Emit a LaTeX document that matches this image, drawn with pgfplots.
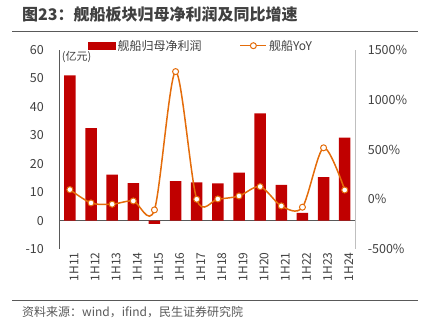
\documentclass[border=0pt]{standalone}
\usepackage{fontspec}
\setmainfont{Noto Sans CJK SC}
\usepackage{pgfplots}
\pgfplotsset{compat=1.18}
\definecolor{barred}{HTML}{C00000}
\definecolor{lineor}{HTML}{E46C0A}
\definecolor{txt}{HTML}{404040}
\begin{document}
\begin{tikzpicture}
\path[use as bounding box] (0pt,0pt) rectangle (429pt,-334pt);
\node[anchor=west, font=\bfseries\fontsize{16}{18}\selectfont, text=txt, inner sep=0] at (22pt,-14pt) {图23：舰船板块归母净利润及同比增速};
\draw[color=black!65, line width=1pt] (12pt,-32pt)--(418pt,-32pt);
\draw[color=black!65, line width=1pt] (12pt,-301pt)--(418pt,-301pt);
\node[anchor=west, font=\fontsize{12}{14}\selectfont, text=black!65, inner sep=0] at (22pt,-312pt) {资料来源：wind，ifind，民生证券研究院};

\begin{axis}[
  at={(59.3pt,-249pt)}, anchor=south west, width=296pt, height=199pt, scale only axis,
  xmin=-0.5, xmax=13.5, ymin=-10, ymax=60, ytick={-10,0,...,60},
  axis y line*=left, axis x line*=bottom,
  x axis line style={draw=none},
  y axis line style={draw=black!65, line width=0.8pt},
  major tick length=0pt,
  xtick={0,...,13},
  xticklabels={1H11,1H12,1H13,1H14,1H15,1H16,1H17,1H18,1H19,1H20,1H21,1H22,1H23,1H24},
  xticklabel style={rotate=90, anchor=east, font=\fontsize{12}{14}\selectfont, text=txt, yshift=-4pt},
  yticklabel style={font=\fontsize{12.5}{14}\selectfont, text=txt, xshift=-12pt},
  /pgf/number format/assume math mode=true,
  /pgf/number format/1000 sep={},
  extra y ticks={0}, extra y tick labels={},
  extra y tick style={grid=major, major grid style={draw=black!65, line width=0.8pt}},
  clip=false,
]
\addplot[ybar, bar width=11.5pt, fill=barred, draw=none] coordinates {
(0,51.1) (1,32.5) (2,16.2) (3,13.2) (4,-1.2) (5,13.9) (6,13.4) (7,13.1) (8,16.9) (9,37.7) (10,12.6) (11,2.7) (12,15.3) (13,29.2)};
\node[anchor=west, font=\fontsize{11}{13}\selectfont, text=txt, inner sep=0] at (rel axis cs:0.008,0.965) {(亿元)};
\end{axis}

\begin{axis}[
  at={(59.3pt,-249pt)}, anchor=south west, width=296pt, height=199pt, scale only axis,
  xmin=-0.5, xmax=13.5, ymin=-500, ymax=1500, ytick={-500,0,...,1500},
  axis y line*=right, axis x line=none,
  y axis line style={draw=black!25, line width=1pt},
  major tick length=0pt,
  yticklabel={\pgfmathprintnumber{\tick}\%},
  yticklabel style={font=\fontsize{12.5}{14}\selectfont, text=txt, xshift=9pt},
  /pgf/number format/assume math mode=true,
  /pgf/number format/1000 sep={},
  legend columns=2,
  legend style={draw=none, fill=none, at={(axis description cs:0.097,1.0216)}, anchor=west,
    font=\fontsize{12}{14}\selectfont, text=txt, inner sep=0pt,
    /tikz/every even column/.append style={column sep=36pt}},
  clip=false,
]
\addlegendimage{legend image code/.code={\fill[barred] (0pt,-3.5pt) rectangle (27pt,3.5pt);}}
\addlegendentry{舰船归母净利润}
\addplot[smooth, color=lineor, line width=1.5pt, mark=*, mark size=3pt,
  mark options={fill=white, draw=lineor, line width=1pt},
  legend image code/.code={\draw[lineor, line width=1.5pt] (0pt,0pt)--(26pt,0pt); \draw[lineor, fill=white, line width=1pt] (13pt,0pt) circle (3pt);}]
 coordinates {
(0,97) (1,-37) (2,-50) (3,-17) (4,-107) (5,1283) (6,0) (7,3) (8,33) (9,127) (10,-67) (11,-80) (12,517) (13,93)};
\addlegendentry{舰船YoY}
\end{axis}
\end{tikzpicture}
\end{document}
